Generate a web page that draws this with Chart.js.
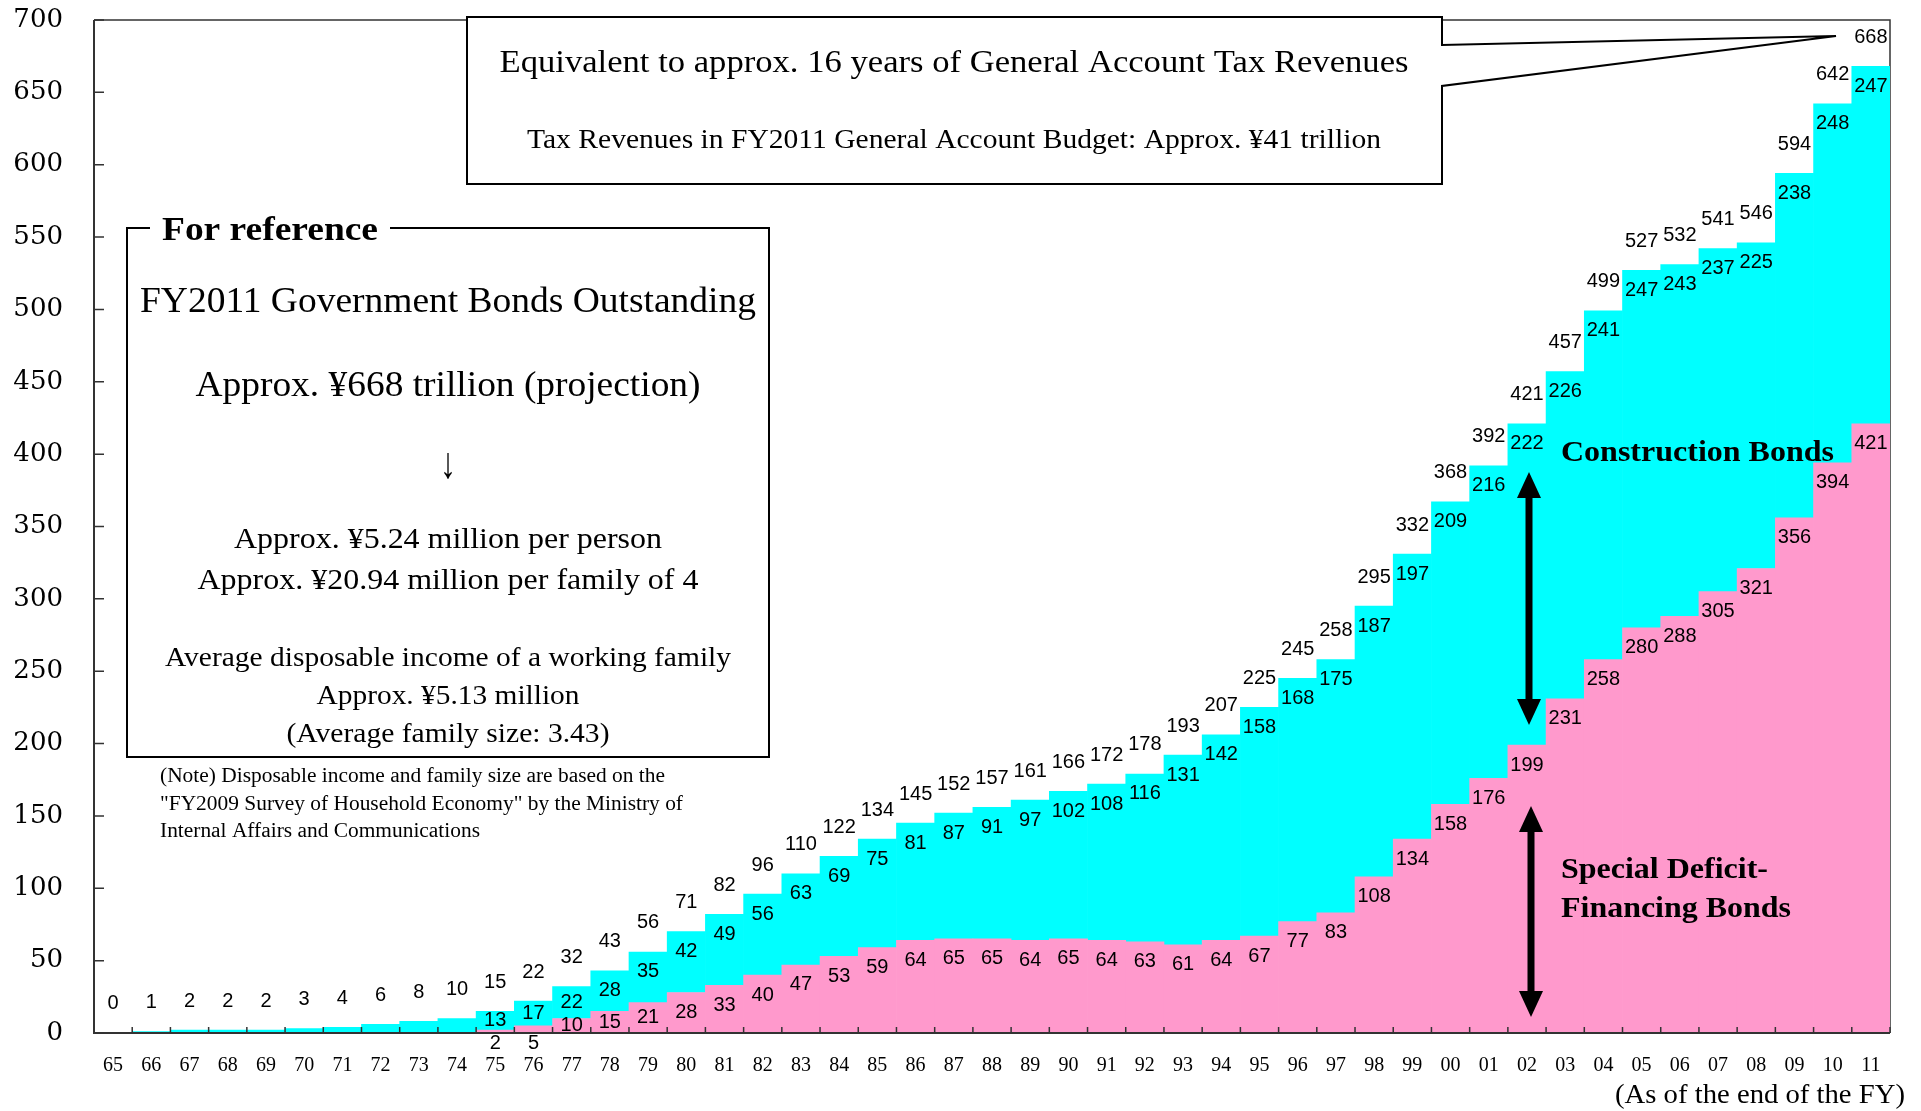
<!DOCTYPE html>
<html lang="en">
<head>
  <meta charset="UTF-8" />
  <title>Government Bonds Outstanding</title>
  <style>
    html, body { margin: 0; padding: 0; background: #fff; }
  </style>
</head>
<body>
  <canvas id="myChart" width="1921" height="1111"></canvas>

  <script src="https://cdn.jsdelivr.net/npm/chart.js"></script>
  <script>
    // fiscal years (end of FY)
    const years = ['65','66','67','68','69','70','71','72','73','74',
      '75','76','77','78','79','80','81','82','83','84','85','86','87','88','89',
      '90','91','92','93','94','95','96','97','98','99','00','01','02','03','04',
      '05','06','07','08','09','10','11'];

    // trillion yen
    const specialBonds = [0,0,0,0,0,0,0,0,0,0,
      2,5,10,15,21,28,33,40,47,53,59,64,65,65,64,
      65,64,63,61,64,67,77,83,108,134,158,176,199,231,258,
      280,288,305,321,356,394,421];
    const constructionBonds = [0.3,1,2,2,2,3,4,6,8,10,
      13,17,22,28,35,42,49,56,63,69,75,81,87,91,97,
      102,108,116,131,142,158,168,175,187,197,209,216,222,226,241,
      247,243,237,225,238,248,247];
    const totals = [0,1,2,2,2,3,4,6,8,10,
      15,22,32,43,56,71,82,96,110,122,134,145,152,157,161,
      166,172,178,193,207,225,245,258,295,332,368,392,421,457,499,
      527,532,541,546,594,642,668];

    const yMax = 700;
    const yStep = 50;

    const PINK = '#FF99CC';
    const CYAN = '#00FFFF';
    const SERIF = '"Liberation Serif", "Times New Roman", serif';

    function fitText(ctx, text, x, y, width, font, align) {
      ctx.save();
      ctx.font = font;
      const w = ctx.measureText(text).width;
      ctx.translate(x, y);
      ctx.scale(width / w, 1);
      ctx.textAlign = align || 'center';
      ctx.textBaseline = 'middle';
      ctx.fillStyle = '#000';
      ctx.fillText(text, 0, 0);
      ctx.restore();
    }

    function doubleArrow(ctx, x, y1, y2) {
      const hw = 12, hl = 26;
      ctx.save();
      ctx.fillStyle = '#000';
      ctx.strokeStyle = '#000';
      ctx.lineWidth = 7;
      ctx.beginPath();
      ctx.moveTo(x, y1 + hl - 2);
      ctx.lineTo(x, y2 - hl + 2);
      ctx.stroke();
      ctx.beginPath();
      ctx.moveTo(x, y1); ctx.lineTo(x - hw, y1 + hl); ctx.lineTo(x + hw, y1 + hl);
      ctx.closePath(); ctx.fill();
      ctx.beginPath();
      ctx.moveTo(x, y2); ctx.lineTo(x - hw, y2 - hl); ctx.lineTo(x + hw, y2 - hl);
      ctx.closePath(); ctx.fill();
      ctx.restore();
    }

    // top and right border of the plot, under the bars
    const frame = {
      id: 'frame',
      beforeDatasetsDraw(chart) {
        const { ctx, chartArea: a } = chart;
        ctx.save();
        ctx.strokeStyle = '#333';
        ctx.lineWidth = 1.5;
        ctx.beginPath();
        ctx.moveTo(a.left, a.top);
        ctx.lineTo(a.right, a.top);
        ctx.lineTo(a.right, a.bottom);
        ctx.stroke();
        ctx.restore();
      }
    };

    // axis lines with inward ticks, and the value labels
    const axesAndLabels = {
      id: 'axesAndLabels',
      afterDatasetsDraw(chart) {
        const { ctx, chartArea: a, scales } = chart;
        ctx.save();
        ctx.strokeStyle = '#333';
        ctx.lineWidth = 2;
        ctx.beginPath();
        ctx.moveTo(a.left, a.top);
        ctx.lineTo(a.left, a.bottom);
        ctx.lineTo(a.right, a.bottom);
        ctx.stroke();

        ctx.lineWidth = 1.5;
        ctx.beginPath();
        for (let v = 0; v <= yMax; v += yStep) {
          const py = scales.y.getPixelForValue(v);
          ctx.moveTo(a.left, py);
          ctx.lineTo(a.left + 10, py);
        }
        const cw = (a.right - a.left) / years.length;
        for (let i = 1; i <= years.length; i++) {
          const px = a.left + i * cw;
          ctx.moveTo(px, a.bottom);
          ctx.lineTo(px, a.bottom - 6);
        }
        ctx.stroke();

        const pink = chart.getDatasetMeta(0).data;
        const cyan = chart.getDatasetMeta(1).data;
        ctx.font = '20px "Liberation Sans", Arial, sans-serif';
        ctx.fillStyle = '#000';
        ctx.textAlign = 'center';
        ctx.textBaseline = 'middle';
        years.forEach((yr, i) => {
          const p = pink[i], c = cyan[i];
          ctx.fillText(String(totals[i]), c.x, c.y - 29);
          if (specialBonds[i] > 0) {
            const hc = c.base - c.y;
            ctx.fillText(String(constructionBonds[i]), c.x, c.y + Math.min(20, hc / 2));
            const hp = p.base - p.y;
            const py = hp < 12 ? p.base + 10 : p.y + Math.min(20, hp / 2);
            ctx.fillText(String(specialBonds[i]), p.x, py);
          }
        });
        ctx.restore();
      }
    };

    // text boxes, callout, arrows
    const notes = {
      id: 'notes',
      afterDraw(chart) {
        const ctx = chart.ctx;
        ctx.save();
        ctx.strokeStyle = '#000';
        ctx.lineWidth = 2;

        // callout box
        ctx.beginPath();
        ctx.moveTo(1442, 45);
        ctx.lineTo(1442, 17);
        ctx.lineTo(467, 17);
        ctx.lineTo(467, 184);
        ctx.lineTo(1442, 184);
        ctx.lineTo(1442, 86);
        ctx.lineTo(1836, 36);
        ctx.closePath();
        ctx.fillStyle = '#fff';
        ctx.fill();
        ctx.stroke();
        fitText(ctx, 'Equivalent to approx. 16 years of General Account Tax Revenues', 954, 64, 909, '32px ' + SERIF);
        fitText(ctx, 'Tax Revenues in FY2011 General Account Budget: Approx. ¥41 trillion', 954, 141, 854, '27px ' + SERIF);

        // reference box
        ctx.fillStyle = '#fff';
        ctx.fillRect(127, 228, 642, 529);
        ctx.strokeRect(127, 228, 642, 529);
        ctx.fillStyle = '#fff';
        ctx.fillRect(150, 210, 240, 36);
        fitText(ctx, 'For reference', 162, 231, 216, 'bold 34px ' + SERIF, 'left');
        fitText(ctx, 'FY2011 Government Bonds Outstanding', 448, 303, 616, '35px ' + SERIF);
        fitText(ctx, 'Approx. ¥668 trillion (projection)', 448, 387, 505, '35px ' + SERIF);
        fitText(ctx, '↓', 448, 466, 16, '44px ' + SERIF);
        fitText(ctx, 'Approx. ¥5.24 million per person', 448, 540, 428, '29px ' + SERIF);
        fitText(ctx, 'Approx. ¥20.94 million per family of 4', 448, 581, 501, '29px ' + SERIF);
        fitText(ctx, 'Average disposable income of a working family', 448, 659, 566, '28px ' + SERIF);
        fitText(ctx, 'Approx. ¥5.13 million', 448, 697, 263, '28px ' + SERIF);
        fitText(ctx, '(Average family size: 3.43)', 448, 735, 323, '28px ' + SERIF);

        fitText(ctx, '(Note) Disposable income and family size are based on the', 160, 777, 505, '20px ' + SERIF, 'left');
        fitText(ctx, '"FY2009 Survey of Household Economy" by the Ministry of', 160, 805, 523, '20px ' + SERIF, 'left');
        fitText(ctx, 'Internal Affairs and Communications', 160, 832, 320, '20px ' + SERIF, 'left');

        // series names and arrows
        fitText(ctx, 'Construction Bonds', 1561, 454, 273, 'bold 29px ' + SERIF, 'left');
        fitText(ctx, 'Special Deficit-', 1561, 871, 207, 'bold 29px ' + SERIF, 'left');
        fitText(ctx, 'Financing Bonds', 1561, 910, 230, 'bold 29px ' + SERIF, 'left');
        doubleArrow(ctx, 1529, 472, 725);
        doubleArrow(ctx, 1531, 806, 1017);

        fitText(ctx, '(As of the end of the FY)', 1905, 1096, 290, '27px ' + SERIF, 'right');
        ctx.restore();
      }
    };

    const ctx = document.getElementById('myChart');
    new Chart(ctx, {
      type: 'bar',
      data: {
        labels: years,
        datasets: [
          {
            label: 'Special Deficit-Financing Bonds',
            data: specialBonds,
            backgroundColor: PINK,
            borderWidth: 0,
            barPercentage: 1,
            categoryPercentage: 1
          },
          {
            label: 'Construction Bonds',
            data: constructionBonds,
            backgroundColor: CYAN,
            borderWidth: 0,
            barPercentage: 1,
            categoryPercentage: 1
          }
        ]
      },
      options: {
        responsive: false,
        animation: false,
        devicePixelRatio: 1,
        layout: { padding: { top: 20, right: 31, left: 0, bottom: 0 } },
        plugins: {
          legend: { display: false },
          tooltip: { enabled: false }
        },
        scales: {
          x: {
            stacked: true,
            grid: { display: false, drawTicks: false },
            border: { display: false },
            ticks: {
              color: '#000',
              font: { family: SERIF, size: 20 },
              padding: 21,
              maxRotation: 0,
              autoSkip: false
            },
            afterFit(scale) {
              scale.height = 78;
              scale.paddingLeft = 0;
              scale.paddingRight = 0;
            }
          },
          y: {
            stacked: true,
            min: 0,
            max: yMax,
            grid: { display: false, drawTicks: false },
            border: { display: false },
            ticks: {
              stepSize: yStep,
              color: '#000',
              font: { family: '"DejaVu Serif", serif', size: 26 },
              padding: 31
            },
            afterFit(scale) {
              scale.width = 94;
              scale.paddingTop = 0;
              scale.paddingBottom = 0;
            }
          }
        }
      },
      plugins: [frame, axesAndLabels, notes]
    });
  </script>
</body>
</html>
